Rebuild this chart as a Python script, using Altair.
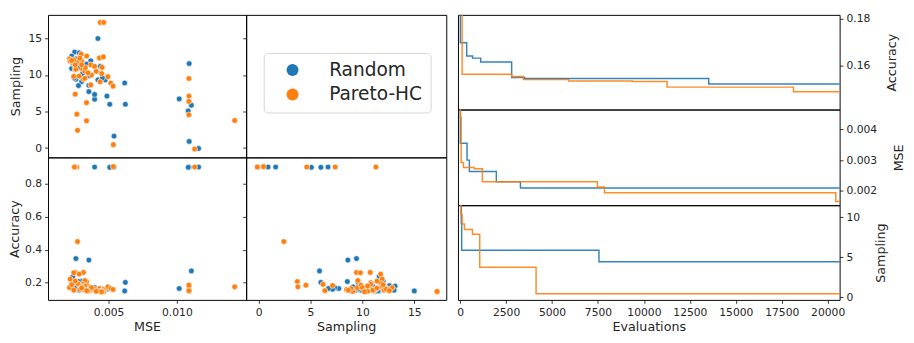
import altair as alt
import pandas as pd

ALGS = ["Random", "Pareto-HC"]
COLORS = ["#1f77b4", "#ff7f0e"]

# ---------------- scatter data (one row per evaluated configuration) -------------
rand_mse = [0.01090, 0.00540, 0.01083, 0.00509, 0.00398, 0.01159, 0.00422, 0.00252,
            0.00285, 0.00370, 0.00356, 0.00356, 0.00398, 0.00488, 0.00618, 0.00623,
            0.00261, 0.00476, 0.00422, 0.00303, 0.01017, 0.01090, 0.01106, 0.00238,
            0.00230, 0.00260, 0.00310, 0.00340, 0.00290, 0.00250, 0.00360, 0.00440,
            0.00230, 0.00300, 0.00280, 0.00455]
rand_samp = [0.91, 1.64, 5.09, 6.00, 6.69, -0.05, 15.00, 13.15,
             13.05, 11.95, 8.60, 7.73, 7.34, 7.12, 8.91, 6.00,
             9.43, 9.34, 9.34, 9.10, 6.73, 11.56, 5.87, 11.63,
             10.90, 12.20, 10.20, 11.50, 11.00, 9.60, 9.90, 11.20,
             12.60, 12.00, 8.55, 9.60]
rand_acc = [0.900, 0.900, 0.898, 0.898, 0.900, 0.900, 0.150, 0.180,
            0.155, 0.160, 0.337, 0.165, 0.170, 0.160, 0.150, 0.202,
            0.346, 0.160, 0.155, 0.175, 0.165, 0.150, 0.271, 0.237,
            0.190, 0.170, 0.160, 0.150, 0.178, 0.200, 0.155, 0.152,
            0.182, 0.210, 0.207, 0.162]

ph_mse = [0.01130, 0.00535, 0.00268, 0.00256, 0.00250, 0.00273, 0.00440, 0.00465,
          0.00214, 0.00433, 0.00462, 0.00299, 0.00453, 0.00495, 0.00438, 0.00516,
          0.00533, 0.00370, 0.00339, 0.00339, 0.01088, 0.01088, 0.01088, 0.01088,
          0.01423, 0.00219, 0.00256, 0.00316, 0.00285, 0.00327, 0.00261, 0.00310,
          0.00370, 0.00398, 0.00285, 0.00375, 0.00327, 0.00274, 0.00303, 0.00256,
          0.00245, 0.00245, 0.00330, 0.00350, 0.00290, 0.00410, 0.00450, 0.00340,
          0.00303, 0.00230]
ph_samp = [-0.13, 0.47, 4.64, 7.38, 11.30, 2.43, 17.20, 17.20,
           12.20, 12.34, 12.47, 12.87, 11.04, 9.78, 9.08, 8.90,
           8.48, 8.65, 6.21, 3.73, 9.52, 7.12, 6.39, 4.56,
           3.78, 11.90, 10.75, 9.43, 11.76, 9.56, 10.80, 10.80,
           11.40, 11.20, 9.86, 10.00, 10.50, 11.80, 11.90, 11.40,
           12.10, 9.81, 11.00, 10.30, 12.30, 10.50, 10.20, 12.60,
           11.40, 12.00]
ph_acc = [0.900, 0.902, 0.900, 0.900, 0.900, 0.449, 0.145, 0.147,
          0.171, 0.165, 0.158, 0.170, 0.150, 0.175, 0.148, 0.165,
          0.159, 0.155, 0.190, 0.207, 0.170, 0.183, 0.152, 0.185,
          0.175, 0.222, 0.262, 0.262, 0.252, 0.213, 0.200, 0.190,
          0.165, 0.160, 0.185, 0.170, 0.180, 0.195, 0.175, 0.210,
          0.155, 0.260, 0.155, 0.150, 0.160, 0.148, 0.145, 0.152,
          0.168, 0.188]

# ---------------- best-so-far traces over evaluations ----------------------------
acc_ev_rand = [0, 10, 355, 674, 1117, 2801, 3511, 13527, 20700]
acc_rand = [0.19, 0.1698, 0.1641, 0.1632, 0.1615, 0.1549, 0.1545, 0.1521, 0.1521]
acc_ev_ph = [0, 106, 2801, 3440, 5904, 9362, 11259, 18138, 20700]
acc_ph = [0.19, 0.1563, 0.1553, 0.1540, 0.1534, 0.1532, 0.1508, 0.1488, 0.1488]

mse_ev_rand = [0, 10, 372, 500, 1968, 3280, 20700]
mse_rand = [0.006, 0.00355, 0.00300, 0.002633, 0.002295, 0.00209, 0.00209]
mse_ev_ph = [0, 10, 53, 177, 762, 1206, 7465, 7854, 20443, 20700]
mse_ph = [0.006, 0.0044, 0.00292, 0.00276, 0.00272, 0.002295, 0.002127, 0.001937,
          0.001654, 0.001654]

samp_ev_rand = [0, 60, 80, 7553, 20700]
samp_rand = [13.0, 9.2, 5.88, 4.44, 4.44]
samp_ev_ph = [0, 40, 106, 230, 670, 1064, 4131, 20700]
samp_ph = [13.0, 10.36, 9.16, 8.48, 7.88, 3.76, 0.44, 0.44]

# ---------------- tables ----------------------------------------------------------
scatter_df = pd.concat([
    pd.DataFrame({"MSE": rand_mse, "Sampling": rand_samp, "Accuracy": rand_acc,
                  "Algorithm": "Random"}),
    pd.DataFrame({"MSE": ph_mse, "Sampling": ph_samp, "Accuracy": ph_acc,
                  "Algorithm": "Pareto-HC"}),
], ignore_index=True)


def trace_df(name, ev_r, v_r, ev_p, v_p):
    return pd.concat([
        pd.DataFrame({"Evaluations": ev_r, name: v_r, "Algorithm": "Random"}),
        pd.DataFrame({"Evaluations": ev_p, name: v_p, "Algorithm": "Pareto-HC"}),
    ], ignore_index=True)


acc_df = trace_df("Accuracy", acc_ev_rand, acc_rand, acc_ev_ph, acc_ph)
mse_df = trace_df("MSE", mse_ev_rand, mse_rand, mse_ev_ph, mse_ph)
samp_df = trace_df("Sampling", samp_ev_rand, samp_rand, samp_ev_ph, samp_ph)

# ---------------- shared pieces ---------------------------------------------------
legend = alt.Legend(
    title=None, orient="none", legendX=221, legendY=39,
    labelFontSize=19, labelFont="DejaVu Sans", labelColor="#262626",
    symbolType="circle", symbolSize=150, symbolStrokeWidth=0, symbolOpacity=1,
    labelOffset=28, symbolOffset=12, rowPadding=5, padding=8,
    fillColor="white", strokeColor="#d6d6d6", cornerRadius=4,
)


def color_enc():
    return alt.Color("Algorithm:N", scale=alt.Scale(domain=ALGS, range=COLORS),
                     legend=legend)


def q(dom):
    return alt.Scale(domain=dom, nice=False, zero=False)


mse_dom = [0.00057, 0.01507]
samp_y_dom = [-1.27, 18.23]
samp_x_dom = [-1.2, 18.08]
acc_dom = [0.096, 0.958]

W1, W2 = 203, 205
H1, H2 = 146, 146

pts = alt.Chart(scatter_df).mark_circle(size=34, opacity=1, stroke="white",
                                        strokeWidth=0.6, clip=True)

tl = pts.encode(
    x=alt.X("MSE:Q", scale=q(mse_dom), axis=None),
    y=alt.Y("Sampling:Q", scale=q(samp_y_dom),
            axis=alt.Axis(values=[0, 5, 10, 15], title="Sampling", titlePadding=6)),
    color=color_enc(),
).properties(width=W1, height=H1)

tr = alt.Chart(scatter_df).mark_circle(opacity=0).encode(
    x=alt.X("MSE:Q", scale=q(mse_dom), axis=None),
    y=alt.Y("Sampling:Q", scale=q(samp_y_dom),
            axis=alt.Axis(values=[0, 5, 10, 15], labels=False, title=None)),
).properties(width=W2, height=H1)

bl = pts.encode(
    x=alt.X("MSE:Q", scale=q(mse_dom),
            axis=alt.Axis(values=[0.005, 0.010], format=".3f", title="MSE")),
    y=alt.Y("Accuracy:Q", scale=q(acc_dom),
            axis=alt.Axis(values=[0.2, 0.4, 0.6, 0.8], format=".1f",
                          title="Accuracy", titlePadding=3)),
    color=color_enc(),
).properties(width=W1, height=H2)

br = pts.encode(
    x=alt.X("Sampling:Q", scale=q(samp_x_dom),
            axis=alt.Axis(values=[0, 5, 10, 15], title="Sampling")),
    y=alt.Y("Accuracy:Q", scale=q(acc_dom),
            axis=alt.Axis(values=[0.2, 0.4, 0.6, 0.8], labels=False, title=None)),
    color=color_enc(),
).properties(width=W2, height=H2)

ev_dom = [-120, 20650]
RW = 391


def trace(df, name, dom, values, fmt, h, show_x):
    xaxis = alt.Axis(values=list(range(0, 20001, 2500)), format="d",
                     title="Evaluations") if show_x else None
    return alt.Chart(df).mark_line(interpolate="step-after", strokeWidth=1.5,
                                   clip=True, opacity=0.9).encode(
        x=alt.X("Evaluations:Q", scale=q(ev_dom), axis=xaxis),
        y=alt.Y(f"{name}:Q", scale=q(dom),
                axis=alt.Axis(orient="right", values=values, format=fmt,
                              title=name, titleAngle=270, titleBaseline="top",
                              titlePadding=16)),
        stroke=alt.Stroke("Algorithm:N", scale=alt.Scale(domain=ALGS, range=COLORS),
                          legend=None),
    ).properties(width=RW, height=h)


r1 = trace(acc_df, "Accuracy", [0.1412, 0.1817], [0.16, 0.18], ".2f", 97, False)
r2 = trace(mse_df, "MSE", [0.00153, 0.00465], [0.002, 0.003, 0.004], ".3f", 98, False)
r3 = trace(samp_df, "Sampling", [-0.32, 11.5], [0, 5, 10], "d", 97, True)

left = alt.concat(tl, tr, bl, br, columns=2, spacing=0, bounds="flush")
right = alt.vconcat(r1, r2, r3, spacing=0, bounds="flush")

chart = alt.hconcat(left, right, spacing=9).properties(
    padding=0
).configure_view(
    stroke="black", strokeWidth=1
).configure_axis(
    domain=False, grid=False, tickColor="black", tickSize=3.5, tickWidth=0.8,
    labelFontSize=11, labelFont="DejaVu Sans", titleFont="DejaVu Sans",
    titleFontSize=13, titleFontWeight="normal", labelColor="#262626",
    titleColor="#262626", labelPadding=3, labelFlush=False, labelOverlap=False,
)

chart.save("out.html", embed_options={"renderer": "svg", "actions": False})
